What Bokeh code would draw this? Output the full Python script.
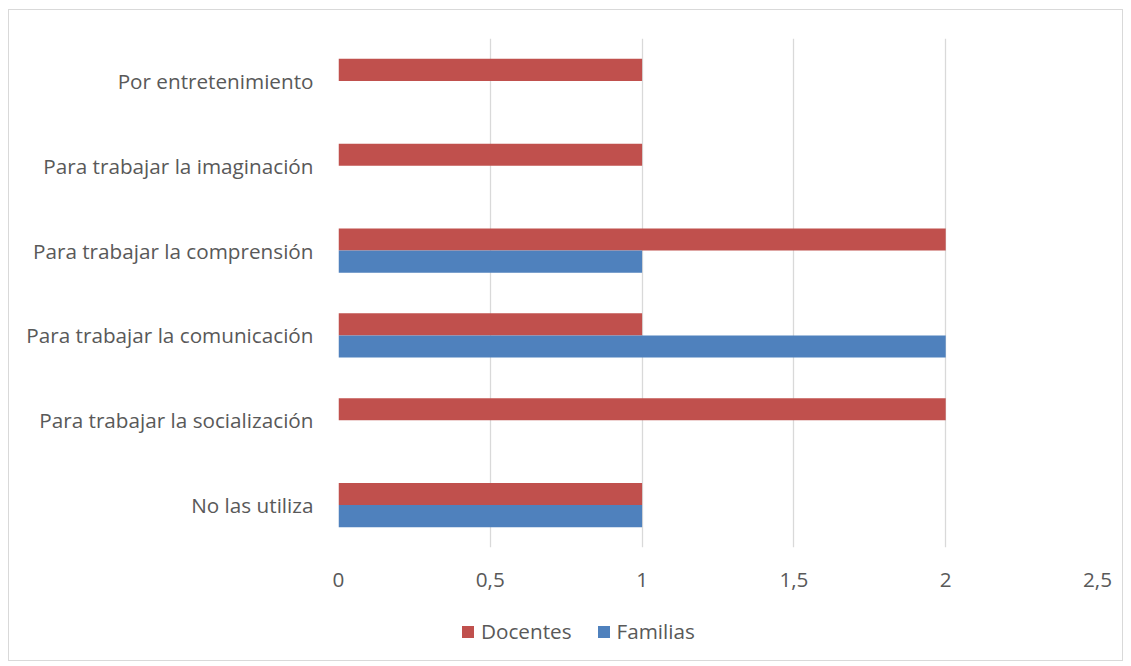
from bokeh.plotting import figure
from bokeh.layouts import column
from bokeh.models import ColumnDataSource, Legend, LegendItem, FixedTicker, CustomJSTickFormatter
from bokeh.transform import dodge
from bokeh.embed import file_html
from bokeh.resources import INLINE

categories = ["No las utiliza", "Para trabajar la socialización", "Para trabajar la comunicación",
              "Para trabajar la comprensión", "Para trabajar la imaginación", "Por entretenimiento"]
docentes = [1, 2, 1, 2, 1, 1]
familias = [1, 0, 2, 1, 0, 0]
series_names = ["Docentes", "Familias"]
series_colors = ["#C0504D", "#4F81BD"]
x_ticks = [0, 0.5, 1, 1.5, 2, 2.5]

src = ColumnDataSource(dict(cat=categories, doc=docentes, fam=familias))

FONT = "Open Sans"
TXT = "#595959"
FS = "20.7px"
W = 1113

p = figure(width=W, height=590, y_range=categories, x_range=(0, 2.5),
           output_backend="svg", toolbar_location=None,
           min_border_left=329, min_border_top=28, min_border_right=25, min_border_bottom=53)

p.hbar(y=dodge("cat", 0.13, range=p.y_range), left=0, right="doc", height=0.26,
       source=src, fill_color=series_colors[0], line_color=None)
p.hbar(y=dodge("cat", -0.13, range=p.y_range), left=0, right="fam", height=0.26,
       source=src, fill_color=series_colors[1], line_color=None)

p.outline_line_color = None
p.ygrid.grid_line_color = None
p.xgrid.grid_line_color = "#D9D9D9"
p.xgrid.grid_line_width = 1.3

p.xaxis.ticker = FixedTicker(ticks=x_ticks)
p.xaxis.formatter = CustomJSTickFormatter(code="return tick.toString().replace('.', ',');")
for ax in (p.xaxis[0], p.yaxis[0]):
    ax.axis_line_color = None
    ax.major_tick_line_color = None
    ax.minor_tick_line_color = None
    ax.major_label_text_font = FONT
    ax.major_label_text_color = TXT
    ax.major_label_text_font_size = FS
p.xaxis.major_label_standoff = 19
p.yaxis.major_label_standoff = 19

# legend strip: same series as hidden renderers, so only the legend shows
lf = figure(width=W, height=60, output_backend="svg", toolbar_location=None,
            min_border=0, x_range=(0, 2.5), y_range=categories)
lf.axis.visible = False
lf.grid.visible = False
lf.outline_line_color = None
items = []
for name, field, col in zip(series_names, ["doc", "fam"], series_colors):
    r = lf.hbar(y="cat", left=0, right=field, height=0.26, source=src,
                fill_color=col, line_color=None, visible=False)
    items.append(LegendItem(label=name, renderers=[r]))
legend = Legend(items=items, orientation="horizontal", location=(122, 15),
                label_text_font=FONT, label_text_color=TXT, label_text_font_size=FS,
                glyph_width=15, glyph_height=15, spacing=24, label_standoff=6,
                click_policy="none", inactive_fill_alpha=0,
                border_line_color=None, background_fill_alpha=0, padding=4, margin=0)
lf.add_layout(legend, "center")

layout = column(p, lf, spacing=0)
layout.styles = {"border": "1px solid #D9D9D9", "margin": "9px 0 0 8px"}

open("out.html", "w").write(file_html(layout, INLINE))
